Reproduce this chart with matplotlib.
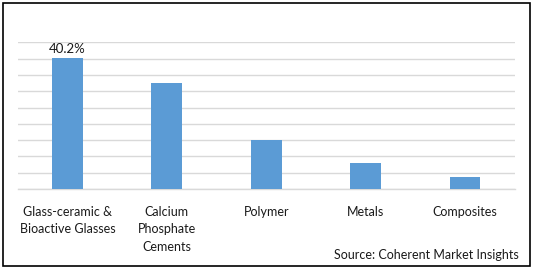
import matplotlib
matplotlib.use("Agg")
import matplotlib.pyplot as plt
from matplotlib.patches import Rectangle

categories = ["Glass-ceramic &\nBioactive Glasses", "Calcium\nPhosphate\nCements", "Polymer", "Metals", "Composites"]
values = [40.2, 32.5, 15.0, 8.0, 3.7]
bar_label = "40.2%"
source = "Source: Coherent Market Insights"

plt.rcParams['font.family'] = ['Lato', 'DejaVu Sans']
W, H = 534, 269
fig = plt.figure(figsize=(W/100, H/100), dpi=100)
ax = fig.add_axes([17.7/W, 1-189/H, (514.7-17.7)/W, (189-42.3)/H])

x = range(len(categories))
ax.bar(x, values, width=0.31, color="#5B9BD5", zorder=3)
ax.set_xlim(-0.5, len(categories)-0.5)
ax.set_ylim(0, 45)
ax.set_yticks(range(0, 46, 5))
ax.yaxis.grid(True, color="#D9D9D9", linewidth=1.0, zorder=0)
ax.tick_params(axis='y', left=False, labelleft=False)
ax.tick_params(axis='x', bottom=False, pad=8.5, labelsize=9, colors="#1a1a1a")
ax.set_xticks(list(x))
ax.set_xticklabels(categories, linespacing=1.55)
for s in ["top", "right", "left"]:
    ax.spines[s].set_visible(False)
ax.spines["bottom"].set_color("#D9D9D9")
ax.spines["bottom"].set_linewidth(1.0)

ax.text(0, values[0] + 0.8, bar_label, ha="center", va="bottom", fontsize=9.5, color="#1a1a1a")

fig.text(519/W, 1-255/H, source, ha="right", va="center", fontsize=9, color="#1a1a1a")
fig.patches.append(Rectangle((3/W, 3/H), 527/W, 263/H, transform=fig.transFigure,
                             fill=False, edgecolor="black", linewidth=1.2))
fig.savefig("out.png", dpi=100)
